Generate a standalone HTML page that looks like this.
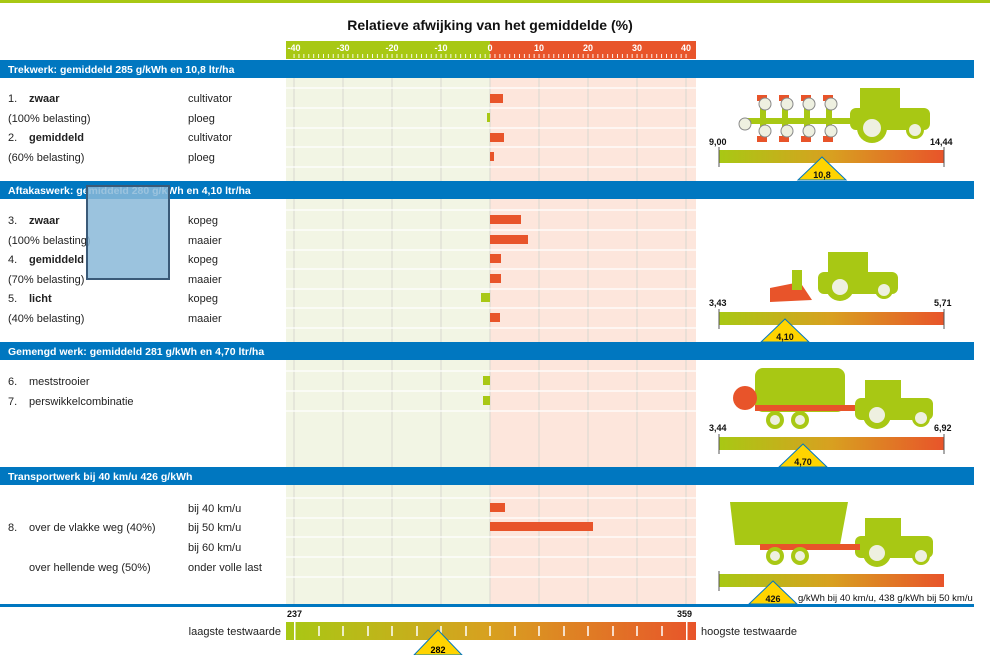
<!DOCTYPE html>
<html><head><meta charset="utf-8"><style>
html,body{margin:0;padding:0;background:#fff;}
svg{display:block;font-family:"Liberation Sans",sans-serif;}
</style></head><body>
<svg width="990" height="655" viewBox="0 0 990 655" xmlns="http://www.w3.org/2000/svg">
<defs>
<linearGradient id="g" x1="0" x2="1"><stop offset="0" stop-color="#a8c814"/><stop offset="0.5" stop-color="#d8a020"/><stop offset="1" stop-color="#e8542a"/></linearGradient>
<pattern id="tk" x="293.6" y="0" width="4.9" height="10" patternUnits="userSpaceOnUse"><rect x="0" y="0" width="0.9" height="10" fill="#fff"/></pattern>
</defs>
<rect x="0" y="0" width="990" height="3" fill="#a8c814"/>
<text x="490" y="30" font-size="14" font-weight="bold" text-anchor="middle" fill="#111">Relatieve afwijking van het gemiddelde (%)</text>
<rect x="286" y="41" width="204" height="18" fill="#a8c814"/>
<rect x="490" y="41" width="206" height="18" fill="#e8542a"/>
<g font-size="9" font-weight="bold" fill="#fff" text-anchor="middle">
<text x="294" y="51">-40</text><text x="343" y="51">-30</text><text x="392" y="51">-20</text><text x="441" y="51">-10</text><text x="490" y="51">0</text><text x="539" y="51">10</text><text x="588" y="51">20</text><text x="637" y="51">30</text><text x="686" y="51">40</text>
</g>
<rect x="293" y="54" width="395" height="4" fill="url(#tk)"/>
<rect x="286" y="78" width="204" height="527" fill="#f2f5e4"/>
<rect x="490" y="78" width="206" height="527" fill="#fde6dc"/>
<g stroke="#d8d8d0" stroke-width="1">
<line x1="294" y1="78" x2="294" y2="605"/><line x1="343" y1="78" x2="343" y2="605"/><line x1="392" y1="78" x2="392" y2="605"/><line x1="441" y1="78" x2="441" y2="605"/><line x1="490" y1="78" x2="490" y2="605"/><line x1="539" y1="78" x2="539" y2="605"/><line x1="588" y1="78" x2="588" y2="605"/><line x1="637" y1="78" x2="637" y2="605"/><line x1="686" y1="78" x2="686" y2="605"/>
</g>
<g stroke="#fff" stroke-width="1.2">
<line x1="286" y1="88" x2="696" y2="88"/><line x1="286" y1="108" x2="696" y2="108"/><line x1="286" y1="128" x2="696" y2="128"/><line x1="286" y1="147" x2="696" y2="147"/><line x1="286" y1="167" x2="696" y2="167"/>
<line x1="286" y1="210" x2="696" y2="210"/><line x1="286" y1="230" x2="696" y2="230"/><line x1="286" y1="250" x2="696" y2="250"/><line x1="286" y1="269" x2="696" y2="269"/><line x1="286" y1="289" x2="696" y2="289"/><line x1="286" y1="308" x2="696" y2="308"/><line x1="286" y1="328" x2="696" y2="328"/>
<line x1="286" y1="371" x2="696" y2="371"/><line x1="286" y1="391" x2="696" y2="391"/><line x1="286" y1="411" x2="696" y2="411"/>
<line x1="286" y1="498" x2="696" y2="498"/><line x1="286" y1="518" x2="696" y2="518"/><line x1="286" y1="537" x2="696" y2="537"/><line x1="286" y1="557" x2="696" y2="557"/><line x1="286" y1="577" x2="696" y2="577"/>
</g>
<g fill="#0077c0">
<rect x="0" y="60" width="974" height="18"/><rect x="0" y="181" width="974" height="18"/><rect x="0" y="342" width="974" height="18"/><rect x="0" y="467" width="974" height="18"/><rect x="0" y="604" width="974" height="3"/>
</g>
<g font-size="10.5" font-weight="bold" fill="#fff">
<text x="8" y="73">Trekwerk: gemiddeld 285 g/kWh en 10,8 ltr/ha</text>
<text x="8" y="194">Aftakaswerk: gemiddeld 280 g/kWh en 4,10 ltr/ha</text>
<text x="8" y="355">Gemengd werk: gemiddeld 281 g/kWh en 4,70 ltr/ha</text>
<text x="8" y="480">Transportwerk bij 40 km/u 426 g/kWh</text>
</g>
<g font-size="11" fill="#222">
<text x="8" y="102">1.</text><text x="29" y="102" font-weight="bold">zwaar</text><text x="188" y="102">cultivator</text>
<text x="8" y="122">(100% belasting)</text><text x="188" y="122">ploeg</text>
<text x="8" y="141">2.</text><text x="29" y="141" font-weight="bold">gemiddeld</text><text x="188" y="141">cultivator</text>
<text x="8" y="161">(60% belasting)</text><text x="188" y="161">ploeg</text>
<text x="8" y="224">3.</text><text x="29" y="224" font-weight="bold">zwaar</text><text x="188" y="224">kopeg</text>
<text x="8" y="244">(100% belasting)</text><text x="188" y="244">maaier</text>
<text x="8" y="263">4.</text><text x="29" y="263" font-weight="bold">gemiddeld</text><text x="188" y="263">kopeg</text>
<text x="8" y="283">(70% belasting)</text><text x="188" y="283">maaier</text>
<text x="8" y="302">5.</text><text x="29" y="302" font-weight="bold">licht</text><text x="188" y="302">kopeg</text>
<text x="8" y="322">(40% belasting)</text><text x="188" y="322">maaier</text>
<text x="8" y="385">6.</text><text x="29" y="385">meststrooier</text>
<text x="8" y="405">7.</text><text x="29" y="405">perswikkelcombinatie</text>
<text x="188" y="512">bij 40 km/u</text>
<text x="8" y="531">8.</text><text x="29" y="531">over de vlakke weg (40%)</text><text x="188" y="531">bij 50 km/u</text>
<text x="188" y="551">bij 60 km/u</text>
<text x="29" y="571">over hellende weg (50%)</text><text x="188" y="571">onder volle last</text>
</g>
<rect x="87" y="186" width="82" height="93" fill="#8ab8d8" fill-opacity="0.85" stroke="#3a5a78" stroke-width="2"/>
<g fill="#e8542a">
<rect x="490" y="94" width="13" height="9"/><rect x="490" y="133" width="14" height="9"/><rect x="490" y="152" width="4" height="9"/>
<rect x="490" y="215" width="31" height="9"/><rect x="490" y="235" width="38" height="9"/><rect x="490" y="254" width="11" height="9"/><rect x="490" y="274" width="11" height="9"/><rect x="490" y="313" width="10" height="9"/>
<rect x="490" y="503" width="15" height="9"/><rect x="490" y="522" width="103" height="9"/>
</g>
<g fill="#a8c814">
<rect x="487" y="113" width="3" height="9"/><rect x="481" y="293" width="9" height="9"/><rect x="483" y="376" width="7" height="9"/><rect x="483" y="396" width="7" height="9"/>
</g>
<g font-size="9" font-weight="bold" fill="#111">
<rect x="719" y="150" width="225" height="13" fill="url(#g)"/><line x1="719" y1="147" x2="719" y2="167" stroke="#555"/><line x1="944" y1="147" x2="944" y2="167" stroke="#555"/>
<text x="709" y="145">9,00</text><text x="930" y="145">14,44</text>
<polygon points="822,157 798,180 846,180" fill="#ffd400" stroke="#0077c0"/><text x="822" y="178" text-anchor="middle">10,8</text>
<rect x="719" y="312" width="225" height="13" fill="url(#g)"/><line x1="719" y1="309" x2="719" y2="329" stroke="#555"/><line x1="944" y1="309" x2="944" y2="329" stroke="#555"/>
<text x="709" y="306">3,43</text><text x="934" y="306">5,71</text>
<polygon points="785,319 761,342 809,342" fill="#ffd400" stroke="#0077c0"/><text x="785" y="340" text-anchor="middle">4,10</text>
<rect x="719" y="437" width="225" height="13" fill="url(#g)"/><line x1="719" y1="434" x2="719" y2="454" stroke="#555"/><line x1="944" y1="434" x2="944" y2="454" stroke="#555"/>
<text x="709" y="431">3,44</text><text x="934" y="431">6,92</text>
<polygon points="803,444 779,467 827,467" fill="#ffd400" stroke="#0077c0"/><text x="803" y="465" text-anchor="middle">4,70</text>
<rect x="719" y="574" width="225" height="13" fill="url(#g)"/><line x1="719" y1="571" x2="719" y2="591" stroke="#555"/>
<polygon points="773,581 749,604 797,604" fill="#ffd400" stroke="#0077c0"/><text x="773" y="602" text-anchor="middle">426</text>
<text x="798" y="601" font-weight="normal" font-size="9.5">g/kWh bij 40 km/u, 438 g/kWh bij 50 km/u</text>
</g>
<g>
<g transform="translate(850,88)">
<rect x="10" y="0" width="40" height="22" fill="#a8c814"/><rect x="0" y="20" width="80" height="22" rx="6" fill="#a8c814"/>
<circle cx="22" cy="40" r="15" fill="#a8c814"/><circle cx="22" cy="40" r="9" fill="#eef0e0"/><circle cx="65" cy="42" r="9" fill="#a8c814"/><circle cx="65" cy="42" r="6" fill="#eef0e0"/>
</g>
<rect x="745" y="118" width="110" height="6" fill="#a8c814"/>
<g fill="#a8c814"><rect x="760" y="97" width="6" height="40"/><rect x="782" y="97" width="6" height="40"/><rect x="804" y="97" width="6" height="40"/><rect x="826" y="97" width="6" height="40"/></g>
<g fill="#e8542a"><rect x="757" y="95" width="10" height="6"/><rect x="779" y="95" width="10" height="6"/><rect x="801" y="95" width="10" height="6"/><rect x="823" y="95" width="10" height="6"/>
<rect x="757" y="136" width="10" height="6"/><rect x="779" y="136" width="10" height="6"/><rect x="801" y="136" width="10" height="6"/><rect x="823" y="136" width="10" height="6"/></g>
<g fill="#eef0e0" stroke="#888"><circle cx="765" cy="104" r="6"/><circle cx="787" cy="104" r="6"/><circle cx="809" cy="104" r="6"/><circle cx="831" cy="104" r="6"/><circle cx="765" cy="131" r="6"/><circle cx="787" cy="131" r="6"/><circle cx="809" cy="131" r="6"/><circle cx="831" cy="131" r="6"/><circle cx="745" cy="124" r="6"/></g>
<g transform="translate(818,252)">
<rect x="10" y="0" width="40" height="22" fill="#a8c814"/><rect x="0" y="20" width="80" height="22" rx="6" fill="#a8c814"/>
<circle cx="22" cy="35" r="14" fill="#a8c814"/><circle cx="22" cy="35" r="8" fill="#eef0e0"/><circle cx="66" cy="38" r="9" fill="#a8c814"/><circle cx="66" cy="38" r="6" fill="#eef0e0"/>
</g>
<polygon points="770,288 800,282 812,300 770,302" fill="#e8542a"/><rect x="792" y="270" width="10" height="20" fill="#a8c814"/>
<g transform="translate(855,380)">
<rect x="10" y="0" width="36" height="20" fill="#a8c814"/><rect x="0" y="18" width="78" height="22" rx="6" fill="#a8c814"/>
<circle cx="22" cy="35" r="14" fill="#a8c814"/><circle cx="22" cy="35" r="8" fill="#eef0e0"/><circle cx="66" cy="38" r="9" fill="#a8c814"/><circle cx="66" cy="38" r="6" fill="#eef0e0"/>
</g>
<rect x="755" y="368" width="90" height="44" rx="8" fill="#a8c814"/><circle cx="745" cy="398" r="12" fill="#e8542a"/><rect x="755" y="405" width="100" height="6" fill="#e8542a"/>
<circle cx="775" cy="420" r="9" fill="#a8c814"/><circle cx="775" cy="420" r="5" fill="#eef0e0"/><circle cx="800" cy="420" r="9" fill="#a8c814"/><circle cx="800" cy="420" r="5" fill="#eef0e0"/>
<g transform="translate(855,518)">
<rect x="10" y="0" width="36" height="20" fill="#a8c814"/><rect x="0" y="18" width="78" height="22" rx="6" fill="#a8c814"/>
<circle cx="22" cy="35" r="14" fill="#a8c814"/><circle cx="22" cy="35" r="8" fill="#eef0e0"/><circle cx="66" cy="38" r="9" fill="#a8c814"/><circle cx="66" cy="38" r="6" fill="#eef0e0"/>
</g>
<polygon points="730,502 848,502 840,545 735,545" fill="#a8c814"/><rect x="760" y="544" width="100" height="6" fill="#e8542a"/>
<circle cx="775" cy="556" r="9" fill="#a8c814"/><circle cx="775" cy="556" r="5" fill="#eef0e0"/><circle cx="800" cy="556" r="9" fill="#a8c814"/><circle cx="800" cy="556" r="5" fill="#eef0e0"/>
</g>
<g font-size="9" font-weight="bold" fill="#111"><text x="287" y="617">237</text><text x="677" y="617">359</text></g>
<rect x="286" y="622" width="410" height="18" fill="url(#g)"/>
<rect x="294" y="622" width="1.5" height="18" fill="#fff"/><rect x="686" y="622" width="1.5" height="18" fill="#fff"/>
<g stroke="#fff" stroke-width="1.5">
<line x1="319" y1="626" x2="319" y2="636"/><line x1="343" y1="626" x2="343" y2="636"/><line x1="368" y1="626" x2="368" y2="636"/><line x1="392" y1="626" x2="392" y2="636"/><line x1="417" y1="626" x2="417" y2="636"/><line x1="441" y1="626" x2="441" y2="636"/><line x1="466" y1="626" x2="466" y2="636"/><line x1="490" y1="626" x2="490" y2="636"/><line x1="515" y1="626" x2="515" y2="636"/><line x1="539" y1="626" x2="539" y2="636"/><line x1="564" y1="626" x2="564" y2="636"/><line x1="588" y1="626" x2="588" y2="636"/><line x1="613" y1="626" x2="613" y2="636"/><line x1="637" y1="626" x2="637" y2="636"/><line x1="662" y1="626" x2="662" y2="636"/>
</g>
<polygon points="438,630 414,655 462,655" fill="#ffd400" stroke="#0077c0"/><text x="438" y="653" font-size="9" font-weight="bold" text-anchor="middle">282</text>
<g font-size="11" fill="#222"><text x="281" y="635" text-anchor="end">laagste testwaarde</text><text x="701" y="635">hoogste testwaarde</text></g>
</svg>
</body></html>
